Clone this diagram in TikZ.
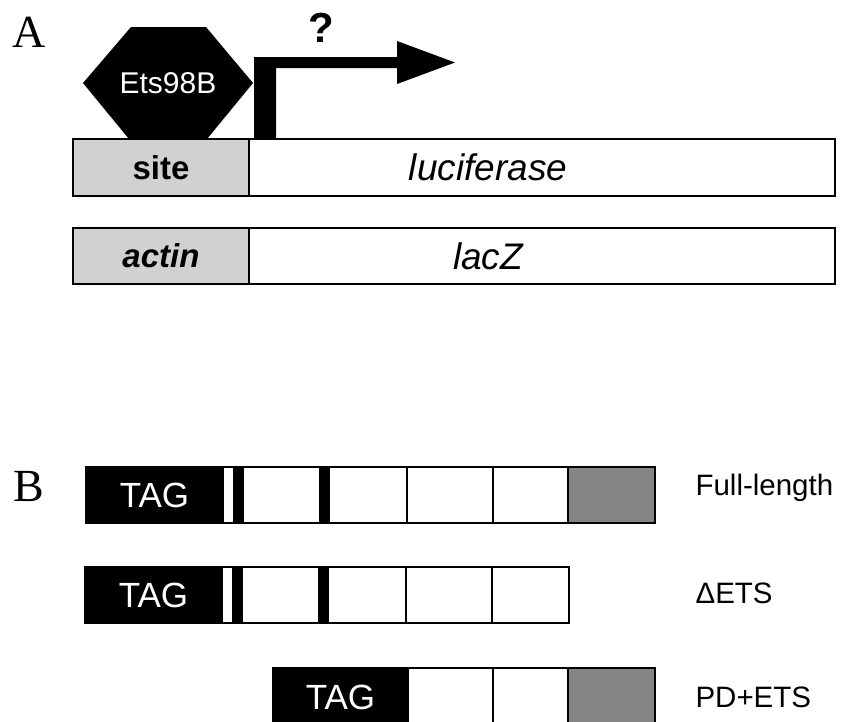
\documentclass[tikz,border=0pt]{standalone}
\usepackage{fontspec}
\setmainfont{Liberation Sans}
\newfontfamily\panelfont{Liberation Serif}
\begin{document}
\begin{tikzpicture}[x=1pt,y=-1pt,
  box/.style={draw=black, line width=2pt, inner sep=0pt, outer sep=0pt, anchor=north west},
  lightstip/.style={fill=black!18},
  darkstip/.style={fill=black!48},
  tagbox/.style={box, fill=black, text=white, font=\fontsize{35}{40}\selectfont},
  blackbar/.style={fill=black, draw=black, line width=0pt, inner sep=0pt, outer sep=0pt, anchor=north west},
  lbl/.style={anchor=base west, font=\fontsize{29.5}{34}\selectfont},
  panel/.style={font=\panelfont\fontsize{46}{50}\selectfont},
  genetxt/.style={font=\fontsize{37}{40}\selectfont\itshape}]
\useasboundingbox (0,0) rectangle (845,721);

% ---------- Panel A ----------
\node[panel] (A) at (29,32) {A};

% Ets98B hexagon
\fill[black] (83,83) -- (131,27) -- (206,27) -- (253,83) -- (207,139) -- (129,139) -- cycle;
\node[text=white, font=\fontsize{30}{34}\selectfont] (ets) at (168,83.5) {Ets98B};

% promoter arrow
\coordinate (arrbase) at (265,139);
\fill[black] (254,139) -- (254,57) -- (397,57) -- (397,41) -- (455,62.5) -- (397,84) -- (397,68) -- (276,68) -- (276,139) -- cycle;
\node[font=\bfseries\fontsize{42}{46}\selectfont] (q) at (321,27.5) {?};

% reporter construct
\node[box, lightstip, minimum width=176pt, minimum height=57pt,
      font=\bfseries\fontsize{33}{36}\selectfont] (site) at (73,139) {site};
\node[box, minimum width=586pt, minimum height=57pt] (luc) at (249,139) {};
\node[genetxt] (luctxt) at (488,167.5) {luciferase};

% control construct
\node[box, lightstip, minimum width=176pt, minimum height=56pt,
      font=\bfseries\itshape\fontsize{33}{36}\selectfont] (actin) at (73,228) {actin};
\node[box, minimum width=586pt, minimum height=56pt] (lacz) at (249,228) {};
\node[genetxt] (lacztxt) at (488,256) {lacZ};

% ---------- Panel B ----------
\node[panel] (B) at (29,486) {B};

% Full-length
\node[box, minimum width=569pt, minimum height=56pt] (fl) at (86,467) {};
\node[tagbox, minimum width=137pt, minimum height=56pt] (fltag) at (86,467) {TAG};
\node[blackbar, minimum width=10pt, minimum height=56pt] (flbar1) at (233,467) {};
\node[box, minimum width=77pt, minimum height=56pt] (flc1) at (243,467) {};
\node[blackbar, minimum width=9pt, minimum height=56pt] (flbar2) at (320,467) {};
\node[box, minimum width=78pt, minimum height=56pt] (flc2) at (329,467) {};
\node[box, minimum width=86pt, minimum height=56pt] (flc3) at (407,467) {};
\node[box, minimum width=75pt, minimum height=56pt] (flc4) at (493,467) {};
\node[box, darkstip, minimum width=87pt, minimum height=56pt] (flets) at (568,467) {};
\node[lbl] (fllbl) at (692,495) {Full-length};

% Delta ETS
\node[box, minimum width=484pt, minimum height=56pt] (de) at (85,567) {};
\node[tagbox, minimum width=137pt, minimum height=56pt] (detag) at (85,567) {TAG};
\node[blackbar, minimum width=10pt, minimum height=56pt] (debar1) at (232,567) {};
\node[box, minimum width=77pt, minimum height=56pt] (dec1) at (242,567) {};
\node[blackbar, minimum width=9pt, minimum height=56pt] (debar2) at (319,567) {};
\node[box, minimum width=78pt, minimum height=56pt] (dec2) at (328,567) {};
\node[box, minimum width=86pt, minimum height=56pt] (dec3) at (406,567) {};
\node[box, minimum width=77pt, minimum height=56pt] (dec4) at (492,567) {};
\node[lbl] (delbl) at (692,603) {ΔETS};

% PD+ETS
\node[box, minimum width=382pt, minimum height=58pt] (pd) at (273,668) {};
\node[tagbox, minimum width=135pt, minimum height=58pt] (pdtag) at (273,668) {TAG};
\node[box, minimum width=85pt, minimum height=58pt] (pdc1) at (408,668) {};
\node[box, minimum width=75pt, minimum height=58pt] (pdc2) at (493,668) {};
\node[box, darkstip, minimum width=87pt, minimum height=58pt] (pdets) at (568,668) {};
\node[lbl] (pdlbl) at (692,707) {PD+ETS};
\end{tikzpicture}
\end{document}
